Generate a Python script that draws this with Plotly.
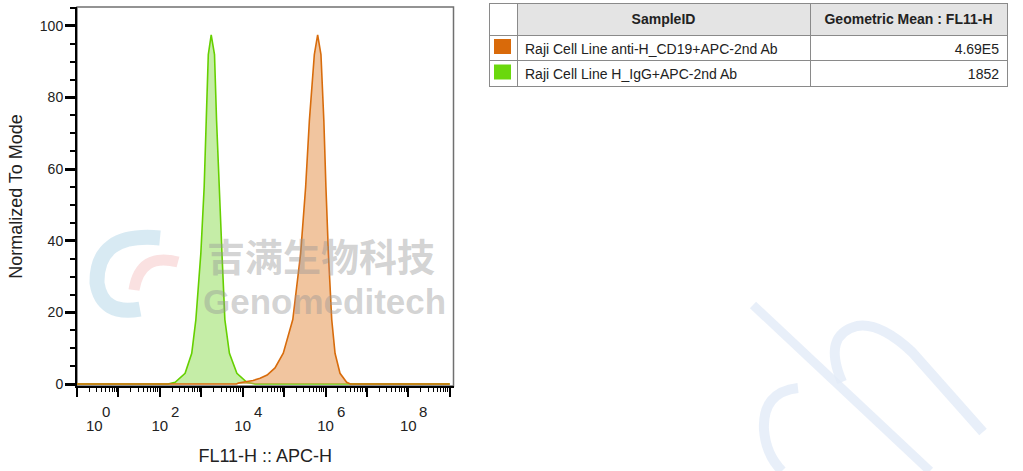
import math
import plotly.graph_objects as go

# ---------------- data ----------------
green_x = [1, 158, 234, 407, 589, 741, 977, 1175, 1318, 1479, 1738, 2089, 2344, 2692, 3162, 3715, 4786, 7244, 12589, 19953, 1e9]
green_y = [0, 0, 0.5, 3, 8.6, 18, 36.5, 55, 73.5, 92, 97.5, 92, 73.5, 55, 36.5, 18, 8.6, 3, 0.5, 0, 0]

orange_x = [1, 7079, 7943, 17783, 26303, 38905, 60256, 95499, 162181, 251189, 331131, 407380, 537032,
            645654, 776247, 912011, 1023293, 1174898, 1412538, 1698244, 2238721, 3235937, 3981072, 1e9]
orange_y = [0, 0, 0.3, 1, 1.6, 2.5, 4.5, 8.6, 18, 36.5, 55, 73.5, 92, 97.5, 92, 73.5, 55, 36.5, 18, 8.6, 3, 0.5, 0, 0]

x_tickvals = [1, 1e1, 1e2, 1e3, 1e4, 1e5, 1e6, 1e7, 1e8, 1e9]
x_exponents = ["0", "", "2", "", "4", "", "6", "", "8", ""]
y_tickvals = [0, 20, 40, 60, 80, 100]

sample_ids = ["Raji Cell Line anti-H_CD19+APC-2nd Ab", "Raji Cell Line H_IgG+APC-2nd Ab"]
geo_means = ["4.69E5", "1852"]
sample_colors = ["#D96A0A", "#6AD80C"]
header_labels = ["", "<b>SampleID</b>", "<b>Geometric Mean : FL11-H</b>"]

ORANGE_LINE = "#D86C0C"
ORANGE_FILL = "rgba(230,150,80,0.55)"
GREEN_LINE = "#66D000"
GREEN_FILL = "rgba(140,220,80,0.5)"

FONT = "Arial, Liberation Sans, sans-serif"
TXT = "#222"

W, H = 1023, 471
ML, MR, MT, MB = 77, 16, 3, 85
PW = W - ML - MR
PH = H - MT - MB


def px_x(p):
    return (p - ML) / PW


def px_y(p):
    return (H - MB - p) / PH


def path_px(pts):
    out = []
    for cmd, coords in pts:
        s = cmd
        for (a, b) in coords:
            s += " %.5f,%.5f" % (px_x(a), px_y(b))
        out.append(s)
    return " ".join(out)


# "10" as tick labels (the 10^0 label is drawn shifted right, as in the source image)
x_ticktext = ["10" if (e and e != "0") else "" for e in x_exponents]

fig = go.Figure()

fig.add_trace(go.Scatter(x=green_x, y=green_y, mode="lines", fill="tozeroy",
                         line=dict(color=GREEN_LINE, width=1.6), fillcolor=GREEN_FILL,
                         name=sample_ids[1], showlegend=False, hoverinfo="skip"))
fig.add_trace(go.Scatter(x=orange_x, y=orange_y, mode="lines", fill="tozeroy",
                         line=dict(color=ORANGE_LINE, width=1.6), fillcolor=ORANGE_FILL,
                         name=sample_ids[0], showlegend=False, hoverinfo="skip"))

# table
fig.add_trace(go.Table(
    domain=dict(x=[px_x(489), 1.0], y=[px_y(100), 1.0]),
    columnwidth=[28, 293, 197],
    header=dict(values=header_labels,
                fill_color=["white", "#e4e4e4", "#e4e4e4"],
                line_color="#8a8a8a", line_width=1,
                align=["center", "center", "center"],
                font=dict(family=FONT, size=14, color=TXT),
                height=24),
    cells=dict(values=[["", ""], sample_ids, geo_means],
               fill_color="white",
               line_color="#8a8a8a", line_width=1,
               align=["center", "left", "right"],
               font=dict(family=FONT, size=14, color=TXT),
               height=25.5),
))

# colour swatches
for i, c in enumerate(sample_colors):
    y0 = 39 + i * 25.5
    fig.add_shape(type="rect", xref="paper", yref="paper",
                  x0=px_x(494), x1=px_x(511), y0=px_y(y0), y1=px_y(y0 + 15),
                  fillcolor=c, line=dict(width=0), layer="above")

# plot frame (top / right)
fig.add_shape(type="rect", xref="paper", yref="paper",
              x0=0, x1=px_x(453.5), y0=0, y1=px_y(7),
              line=dict(color="#707070", width=1.5), layer="below")

# x-axis exponents (and the shifted 10^0 label)
fig.add_annotation(text="10", xref="paper", yref="paper", x=px_x(84), y=px_y(425),
                   xanchor="left", yanchor="middle", showarrow=False,
                   font=dict(family=FONT, size=15, color=TXT))
for v, e in zip(x_tickvals, x_exponents):
    if not e:
        continue
    xpos = math.log10(v)
    shift = 23 if e == "0" else 9
    fig.add_annotation(text=e, xref="x", yref="paper", x=xpos, xshift=shift, y=px_y(411),
                       xanchor="left", yanchor="middle", showarrow=False,
                       font=dict(family=FONT, size=15, color=TXT))

# watermark decoration (faint strokes)
WM_BLUE = "rgba(226,235,247,0.8)"
fig.add_shape(type="line", xref="paper", yref="paper",
              x0=px_x(753), y0=px_y(305), x1=px_x(930), y1=px_y(471),
              line=dict(color=WM_BLUE, width=9), layer="below")
fig.add_shape(type="path", xref="paper", yref="paper",
              path=path_px([("M", [(842, 382)]), ("Q", [(822, 335), (857, 326)]),
                            ("Q", [(880, 322), (912, 352)]), ("L", [(983, 432)])]),
              line=dict(color=WM_BLUE, width=10), layer="below")
fig.add_shape(type="path", xref="paper", yref="paper",
              path=path_px([("M", [(798, 388)]), ("Q", [(762, 392), (764, 430)]),
                            ("Q", [(766, 455), (782, 471)])]),
              line=dict(color=WM_BLUE, width=10), layer="below")
# faint logo swirl
fig.add_shape(type="path", xref="paper", yref="paper",
              path=path_px([("M", [(160, 238)]), ("Q", [(96, 232), (97, 283)]),
                            ("Q", [(102, 316), (140, 309)])]),
              line=dict(color="rgba(200,225,238,0.7)", width=15), layer="below")
fig.add_shape(type="path", xref="paper", yref="paper",
              path=path_px([("M", [(178, 262)]), ("Q", [(140, 252), (134, 290)])]),
              line=dict(color="rgba(246,205,205,0.6)", width=11), layer="below")

fig.add_annotation(text="<b>吉满生物科技</b>", xref="paper", yref="paper",
                   x=px_x(205), y=px_y(254), xanchor="left", yanchor="middle", showarrow=False,
                   font=dict(family="Noto Sans CJK SC", size=38, color="rgba(150,150,150,0.42)"))
fig.add_annotation(text="<b>Genomeditech</b>", xref="paper", yref="paper",
                   x=px_x(201), y=px_y(301), xanchor="left", yanchor="middle", showarrow=False,
                   font=dict(family=FONT, size=35, color="rgba(150,150,150,0.42)"))

fig.update_layout(
    width=W, height=H,
    margin=dict(l=ML, r=MR, t=MT, b=MB),
    paper_bgcolor="white", plot_bgcolor="rgba(0,0,0,0)",
    font=dict(family=FONT, size=14, color=TXT),
    showlegend=False,
    xaxis=dict(type="log", range=[0, 9.09], domain=[0, px_x(453.5)],
               showgrid=False, zeroline=False,
               showline=True, linecolor="black", linewidth=2,
               ticks="outside", ticklen=9, tickwidth=2, tickcolor="black",
               tickmode="array", tickvals=x_tickvals, ticktext=x_ticktext,
               tickfont=dict(family=FONT, size=15, color=TXT),
               ticklabelstandoff=16,
               minor=dict(ticks="outside", ticklen=4, tickwidth=1, tickcolor="black", dtick="D1", showgrid=False),
               title=dict(text="FL11-H :: APC-H", font=dict(family=FONT, size=18, color=TXT), standoff=16)),
    yaxis=dict(range=[-0.55, 105.3], domain=[0, px_y(7)],
               showgrid=False, zeroline=False,
               showline=True, linecolor="black", linewidth=2,
               ticks="outside", ticklen=10, tickwidth=2.5, tickcolor="black",
               tickmode="array", tickvals=y_tickvals,
               tickfont=dict(family=FONT, size=14, color=TXT),
               ticklabelstandoff=-1,
               minor=dict(ticks="outside", ticklen=5, tickwidth=1.5, tickcolor="black",
                          tickmode="linear", tick0=0, dtick=5, showgrid=False),
               title=dict(text="Normalized To Mode", font=dict(family=FONT, size=18, color=TXT), standoff=13)),
)

fig.write_html("out.html", config={"displayModeBar": False},
               post_script="document.body.style.margin='0';")
